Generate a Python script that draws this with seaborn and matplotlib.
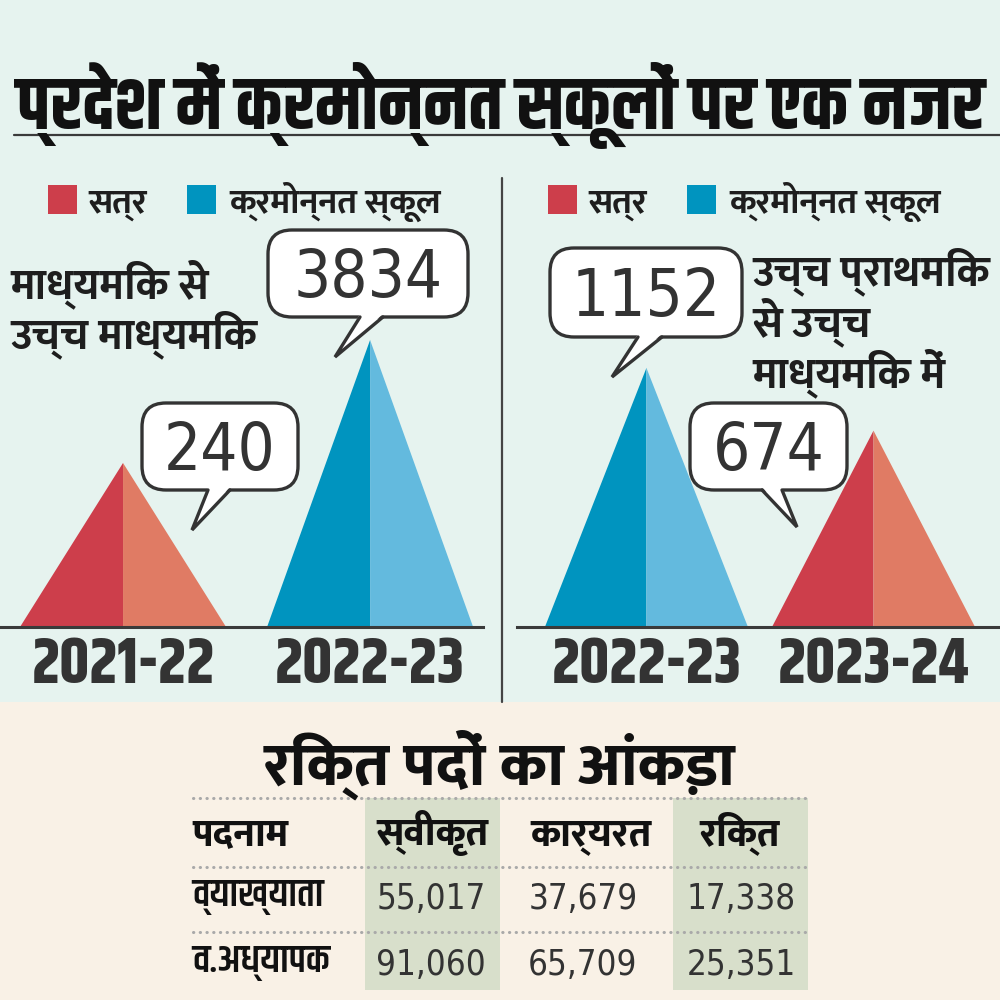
import matplotlib
matplotlib.use("Agg")
import matplotlib.pyplot as plt
from matplotlib.patches import FancyBboxPatch, Rectangle, Polygon
import seaborn as sns

# ---- data ----
title = "प्रदेश में क्रमोन्नत स्कूलों पर एक नजर"
legend_labels = ["सत्र", "क्रमोन्नत स्कूल"]
left_note = ["माध्यमिक से", "उच्च माध्यमिक"]
left_years = ["2021-22", "2022-23"]
left_values = [240, 3834]
right_note = ["उच्च प्राथमिक", "से उच्च", "माध्यमिक में"]
right_years = ["2022-23", "2023-24"]
right_values = [1152, 674]

table_title = "रिक्त पदों का आंकड़ा"
table_cols = ["पदनाम", "स्वीकृत", "कार्यरत", "रिक्त"]
posts = ["व्याख्याता", "व.अध्यापक"]
sanctioned = [55017, 91060]
working = [37679, 65709]
vacant = [17338, 25351]

# ---- style ----
sns.set_theme(style="white")
plt.rcParams["font.family"] = ["Mukta", "DejaVu Sans"]
RED = ("#cd3e4b", "#e07b64")
BLUE = ("#0094bf", "#63bade")
INK = "#333333"
HEAD = ["Khand", "DejaVu Sans"]
BODY = ["Mukta", "DejaVu Sans"]
NUM = dict(family="DejaVu Sans", fontstretch="condensed", color=INK)

fig = plt.figure(figsize=(10, 10), dpi=100)


def px_axes(x0, y_top, x1, y_bot, z):
    return fig.add_axes([x0 / 1000, 1 - y_bot / 1000, (x1 - x0) / 1000, (y_bot - y_top) / 1000], zorder=z)


# background layer
bg = px_axes(0, 0, 1000, 1000, 0)
bg.set_xlim(0, 1000)
bg.set_ylim(1000, 0)
bg.axis("off")
bg.add_patch(Rectangle((0, 0), 1000, 702, color="#e6f3ef", lw=0))
bg.add_patch(Rectangle((0, 702), 1000, 298, color="#f9f1e6", lw=0))


def pyramid_panel(x0, x1, years, values, colors, ylim, xlim, hw):
    ax = px_axes(x0, 170, x1, 627, 1)
    ax.patch.set_alpha(0)
    ax.set_yscale("log")
    ax.set_ylim(*ylim)
    ax.set_xlim(*xlim)
    base = ylim[0]
    for i, (v, (dark, light)) in enumerate(zip(values, colors)):
        ax.fill([i - hw, i, i], [base, v, base], color=dark, lw=0)
        ax.fill([i, i, i + hw], [base, v, base], color=light, lw=0)
    sns.despine(ax=ax, left=True)
    ax.spines["bottom"].set_color("#3a3a3a")
    ax.spines["bottom"].set_linewidth(2.2)
    ax.set_yticks([])
    ax.minorticks_off()
    ax.set_xticks(range(len(years)), years)
    ax.tick_params(axis="x", length=0, pad=40)
    for lbl in ax.get_xticklabels():
        lbl.set_va("baseline")
        lbl.set_family(HEAD)
        lbl.set_fontweight("bold")
        lbl.set_fontsize(46)
        lbl.set_color(INK)
    ax.tick_params(axis="y", which="both", length=0)
    return ax


left_ax = pyramid_panel(0, 483, left_years, left_values, [RED, BLUE],
                        (10 ** 0.775, 10 ** 5.247), (-0.498, 1.457), 0.417)
right_ax = pyramid_panel(517, 1000, right_years, right_values, [BLUE, RED],
                         (10 ** 2.1, 10 ** 3.796), (-0.570, 1.557), 0.447)

# overlay layer in pixel coordinates
ov = px_axes(0, 0, 1000, 1000, 3)
ov.set_xlim(0, 1000)
ov.set_ylim(1000, 0)
ov.axis("off")
ov.patch.set_alpha(0)

ov.text(500, 129, title, ha="center", va="baseline", family=HEAD, fontweight="bold",
        fontsize=53.5, color="#111111")
ov.plot([14, 1000], [135, 135], color="#3a3a3a", lw=1.6)
ov.plot([502, 502], [178, 702], color="#444444", lw=1.6)

# legends
for off in (0, 500):
    for sq_x, txt_x, col, lab in [(48, 88, RED[0], legend_labels[0]),
                                  (187, 229, BLUE[0], legend_labels[1])]:
        ov.add_patch(Rectangle((sq_x + off, 185), 29, 29, color=col, lw=0))
        ov.text(txt_x + off, 213, lab, ha="left", va="baseline", family=BODY,
                fontweight="bold", fontsize=25, color="#1e1e1e")

# side notes
for line, yb in zip(left_note, [298, 348]):
    ov.text(10, yb, line, ha="left", va="baseline", family=BODY, fontweight="bold",
            fontsize=31, color="#1e1e1e")
for line, yb in zip(right_note, [285, 336, 387]):
    ov.text(752, yb, line, ha="left", va="baseline", family=BODY, fontweight="bold",
            fontsize=31, color="#1e1e1e")


def bubble(box, tail, value):
    x0, y0, x1, y1 = box
    xa, xb, tx, ty = tail
    ov.add_patch(FancyBboxPatch((x0, y0), x1 - x0, y1 - y0,
                                boxstyle="round,pad=0,rounding_size=24",
                                fc="white", ec=INK, lw=2.4, zorder=3))
    ov.add_patch(Polygon([(xa, y1 - 3), (tx, ty), (xb, y1 - 3)], closed=True,
                         fc="white", ec="none", zorder=4))
    ov.plot([xa, tx, xb], [y1, ty, y1], color=INK, lw=2.4, zorder=5,
            solid_joinstyle="miter")
    fs = 47
    cap = 0.729 * fs * 100 / 72
    ov.text((x0 + x1) / 2, (y0 + y1) / 2 + cap / 2, str(value), ha="center",
            va="baseline", fontsize=fs, zorder=6, **NUM)


bubble((142, 403, 298, 490), (208, 230, 192, 530), left_values[0])
bubble((268, 230, 468, 317), (360, 383, 335, 357), left_values[1])
bubble((550, 248, 742, 337), (638, 662, 612, 377), right_values[0])
bubble((690, 403, 847, 490), (762, 782, 797, 527), right_values[1])

# ---- table ----
ov.text(500, 784, table_title, ha="center", va="baseline", family=BODY,
        fontweight="heavy", fontsize=44, color="#111111")
for sx0, sx1 in [(365, 500), (673, 808)]:
    ov.add_patch(Rectangle((sx0, 798), sx1 - sx0, 192, color="#d8dfcb", lw=0))
for yl in [798, 867, 932]:
    ov.plot([193, 808], [yl, yl], color="#a9a9a9", lw=2.2,
            linestyle=(0, (0.1, 2.1)), dash_capstyle="round")

head_x = [192, 432, 591, 740]
for i, (hx, col) in enumerate(zip(head_x, table_cols)):
    ov.text(hx, 845, col, ha="left" if i == 0 else "center", va="baseline",
            family=BODY, fontweight="heavy", fontsize=28, color="#111111")

row_base = [906, 972]
for r, post in enumerate(posts):
    ov.text(192, row_base[r], post, ha="left", va="baseline", family=HEAD,
            fontweight="semibold", fontsize=28, color="#111111")
    ov.text(486, row_base[r] + 3, f"{sanctioned[r]:,}", ha="right", va="baseline", fontsize=25, **NUM)
    ov.text(583, row_base[r] + 3, f"{working[r]:,}", ha="center", va="baseline", fontsize=25, **NUM)
    ov.text(796, row_base[r] + 3, f"{vacant[r]:,}", ha="right", va="baseline", fontsize=25, **NUM)

fig.savefig("out.png", dpi=100)
